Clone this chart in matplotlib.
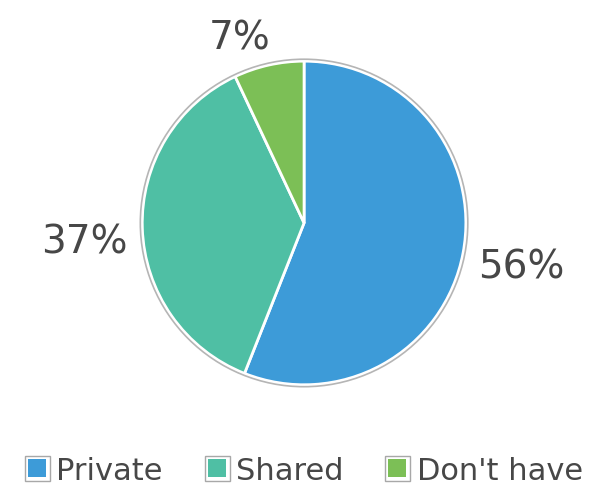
import numpy as np
import matplotlib
matplotlib.use("Agg")
import matplotlib.pyplot as plt
from matplotlib.lines import Line2D
from matplotlib.patches import Circle

labels = ["Private", "Shared", "Don't have"]
shares = [56, 37, 7]
colors = ["#3d9bd8", "#4fbfa4", "#7cbf56"]
label_dist = [1.37, 1.36, 1.21]   # how far each % sits from the centre
label_shift = [-0.5, 3.0, 6.5]    # small angle nudges, degrees

text_col = "#474747"
plt.rcParams['font.family'] = ['DejaVu Sans']

fig = plt.figure(figsize=(6.08, 4.89), dpi=100)
ax = fig.add_axes([0.2286, 0.2045, 0.543, 0.675])

wedges, _ = ax.pie(shares, colors=colors, startangle=90, counterclock=False,
                   wedgeprops=dict(edgecolor="white", linewidth=2), radius=1.0)
# thin grey rim around the pie
ax.add_patch(Circle((0, 0), 1.012, fill=False, edgecolor="#b5b5b5", linewidth=1.2))

for w, v, d, s in zip(wedges, shares, label_dist, label_shift):
    mid = np.deg2rad((w.theta1 + w.theta2) / 2 + s)
    ax.text(d * np.cos(mid), d * np.sin(mid), f"{v}%", ha="center", va="center",
            fontsize=28, color=text_col)

ax.set_xlim(-1.02, 1.02)
ax.set_ylim(-1.02, 1.02)
ax.set_aspect("equal")
ax.axis("off")

handles = []
for c in colors:
    outer = Line2D([], [], marker="s", linestyle="none", markersize=18,
                   markerfacecolor="white", markeredgecolor="#a8a8a8", markeredgewidth=1)
    inner = Line2D([], [], marker="s", linestyle="none", markersize=13,
                   markerfacecolor=c, markeredgewidth=0)
    handles.append((outer, inner))

fig.legend(handles, labels, loc="center", bbox_to_anchor=(0.5, 0.036), ncol=3,
           frameon=False, fontsize=22, labelcolor=text_col, handlelength=0.75,
           handletextpad=0.25, columnspacing=1.4)

fig.savefig("out.png", dpi=100)
